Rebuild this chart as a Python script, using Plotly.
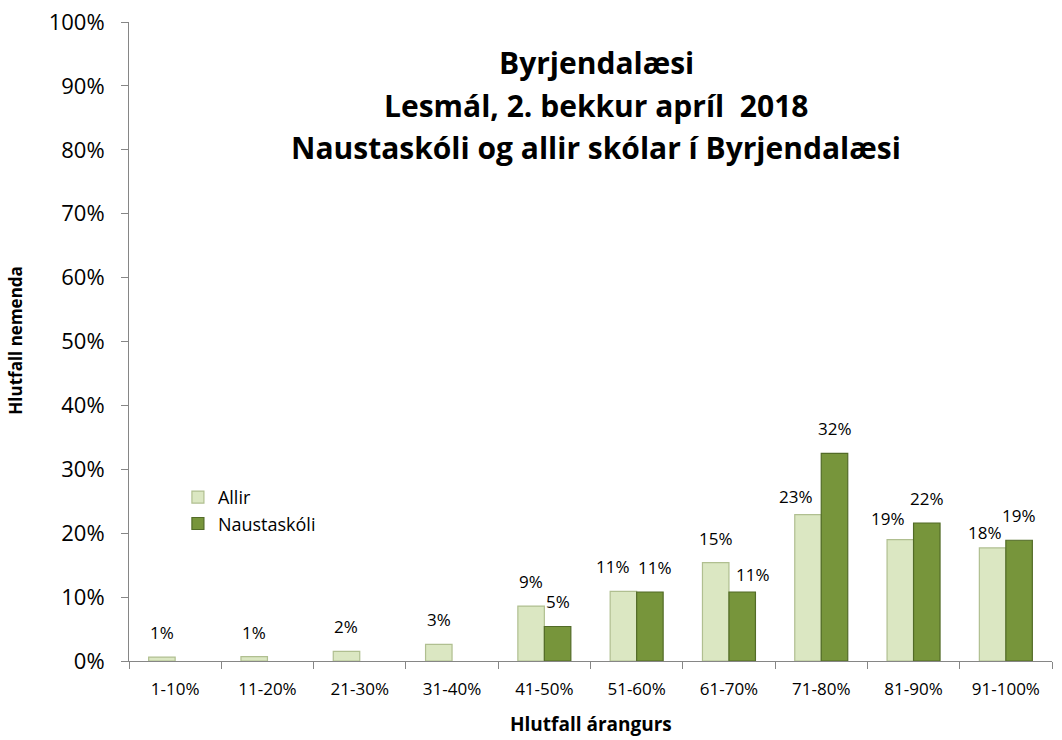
import plotly.graph_objects as go

categories = ["1-10%", "11-20%", "21-30%", "31-40%", "41-50%",
              "51-60%", "61-70%", "71-80%", "81-90%", "91-100%"]
allir = [0.6, 0.7, 1.5, 2.6, 8.6, 10.9, 15.4, 22.9, 19.0, 17.7]
naust = [0, 0, 0, 0, 5.4, 10.8, 10.8, 32.5, 21.6, 18.9]
y_ticks = [0, 10, 20, 30, 40, 50, 60, 70, 80, 90, 100]
title_lines = ["Byrjendalæsi", "Lesmál, 2. bekkur apríl  2018",
               "Naustaskóli og allir skólar í Byrjendalæsi"]

# label pixel nudges (style only)
allir_dx = [0, 0, 0, 0, 0, -10, 0, -12, -12, -8]
allir_dy = [0, 0, 0, 0, 0, 0, 0, -6, -3, -9]
naust_dx = [0, 0, 0, 0, 0, 5, 11, 0, 0, 0]
naust_dy = [0, 0, 0, 0, 0, 0, -7, 0, 0, 0]
title_y = [0.937, 0.870, 0.803]

FONT = "Open Sans"
C_ALLIR = "#dbe7c2"
C_NAUST = "#77953b"

def nz(vals):
    return [v if v > 0 else None for v in vals]

fig = go.Figure()
fig.add_trace(go.Bar(x=categories, y=nz(allir), name="Allir",
                     marker=dict(color=C_ALLIR, line=dict(color="#b0bf90", width=1.2))))
fig.add_trace(go.Bar(x=categories, y=nz(naust), name="Naustaskóli",
                     marker=dict(color=C_NAUST, line=dict(color="#526b27", width=1.2))))

bar_half = 13.3
anns = []
for i, c in enumerate(categories):
    if allir[i] > 0:
        anns.append(dict(x=c, y=allir[i], xref="x", yref="y", text=f"{round(allir[i])}%",
                         showarrow=False, yanchor="bottom", yshift=11 + allir_dy[i],
                         xshift=-bar_half + allir_dx[i],
                         font=dict(family=FONT, size=17, color="#000")))
    if naust[i] > 0:
        anns.append(dict(x=c, y=naust[i], xref="x", yref="y", text=f"{round(naust[i])}%",
                         showarrow=False, yanchor="bottom", yshift=11 + naust_dy[i],
                         xshift=bar_half + naust_dx[i],
                         font=dict(family=FONT, size=17, color="#000")))

for line, ty in zip(title_lines, title_y):
    anns.append(dict(x=0.506, y=ty, xref="paper", yref="paper",
                     text=f"<b>{line}</b>", showarrow=False,
                     yanchor="middle", xanchor="center",
                     font=dict(family=FONT, size=30, color="#000")))
# axis titles
anns.append(dict(x=0.5, y=-0.098, xref="paper", yref="paper",
                 text="<b>Hlutfall árangurs</b>", showarrow=False,
                 xanchor="center", yanchor="middle",
                 font=dict(family=FONT, size=19, color="#000")))
anns.append(dict(x=-0.123, y=0.502, xref="paper", yref="paper",
                 text="<b>Hlutfall nemenda</b>", showarrow=False, textangle=-90,
                 xanchor="center", yanchor="middle",
                 font=dict(family=FONT, size=17, color="#000")))

fig.update_layout(
    width=1062, height=740,
    margin=dict(l=129, r=10, t=22, b=79, autoexpand=False),
    paper_bgcolor="white", plot_bgcolor="white",
    barmode="group", bargap=0.426, bargroupgap=0,
    showlegend=True,
    legend=dict(x=0.053, y=0.285, xanchor="left", yanchor="top",
                font=dict(family=FONT, size=18, color="#000"),
                bgcolor="rgba(0,0,0,0)", itemwidth=30, tracegroupgap=0),
    annotations=anns,
    font=dict(family=FONT, color="#000"),
)
fig.update_xaxes(type="category", tickson="boundaries", ticks="outside", ticklen=7,
                 tickcolor="#868686", showline=True, linecolor="#868686", linewidth=1,
                 tickfont=dict(family=FONT, size=17, color="#000"),
                 ticklabelstandoff=13, automargin=False,
                 showgrid=False)
fig.update_yaxes(range=[0, 100], tickvals=y_ticks, ticktext=[f"{v}%" for v in y_ticks],
                 ticks="outside", ticklen=7, tickcolor="#868686",
                 showline=True, linecolor="#868686", linewidth=1,
                 tickfont=dict(family=FONT, size=22, color="#000"),
                 ticklabelstandoff=12, automargin=False,
                 showgrid=False, zeroline=False)

fig.write_html("out.html", config={"displayModeBar": False},
               post_script="document.body.style.margin='0';document.body.style.padding='0';")
